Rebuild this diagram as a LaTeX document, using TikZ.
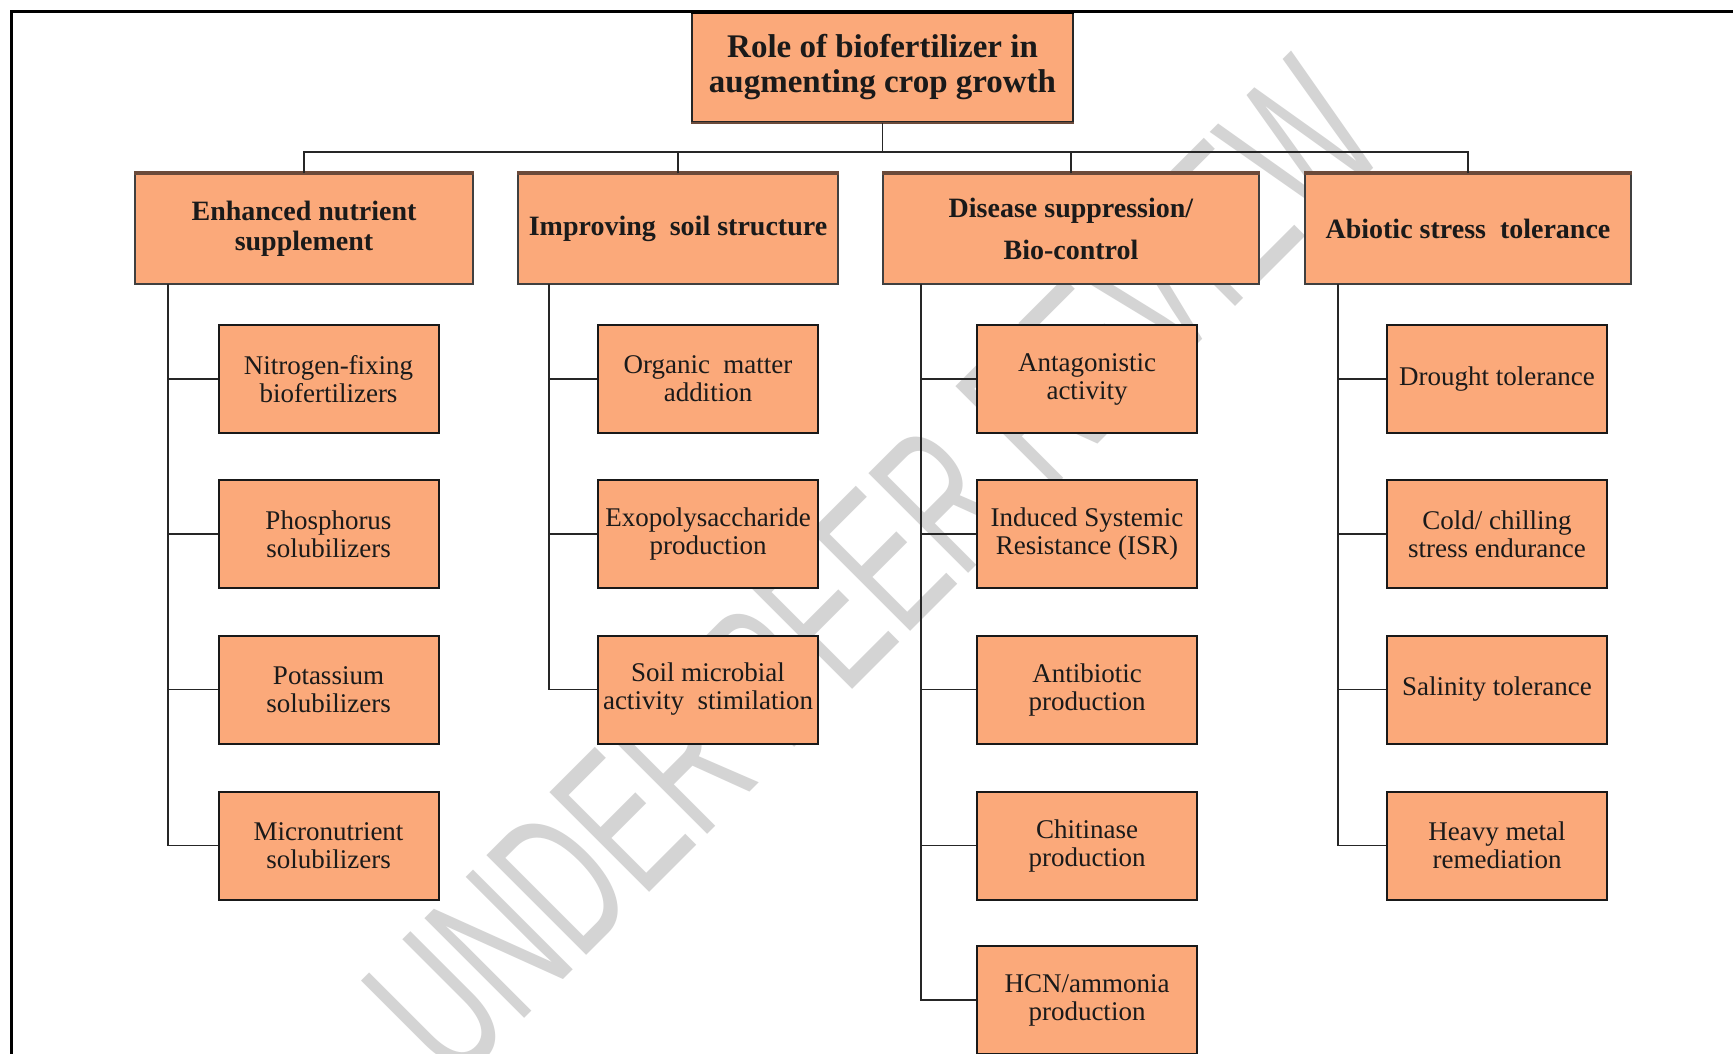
\documentclass[tikz,border=0pt]{standalone}
\usepackage{fontspec}
\setmainfont{Liberation Serif}
\newfontfamily\wmfont{Liberation Sans}
\definecolor{boxfill}{HTML}{FBA97A}
\definecolor{topline}{HTML}{6B4A3A}
\definecolor{txt}{HTML}{1A1A1A}
\tikzset{
  rootbox/.style={rectangle, fill=boxfill, draw=black!85, line width=1.5pt, inner sep=0pt,
    minimum width=381pt, minimum height=109pt, align=center, text=txt,
    font=\bfseries\fontsize{33}{35}\selectfont},
  catbox/.style={rectangle, fill=boxfill, draw=black!75, line width=1.3pt, inner sep=0pt,
    minimum height=110pt, align=center, text=txt,
    font=\bfseries\fontsize{28}{30}\selectfont},
  leafbox/.style={rectangle, fill=boxfill, draw=black!90, line width=2pt, inner sep=0pt,
    minimum width=220pt, minimum height=108pt, align=center, text=txt,
    font=\fontsize{27}{28}\selectfont},
  conn/.style={draw=black!85, line width=1.8pt},
  topedge/.style={draw=topline, line width=4pt},
}
\begin{document}
\begin{tikzpicture}[x=1pt,y=-1pt]
\useasboundingbox (0,0) rectangle (1733,1053);
\fill[white] (0,0) rectangle (1733,1053);
% watermark
\node[rotate=45, text=black!17, inner sep=0pt] (wm) at (874,570)
  {\scalebox{0.60}[1]{\wmfont\fontsize{205}{205}\selectfont UNDER PEER REVIEW}};
% frame
\draw[line width=3pt, black] (11,1070) -- (11,11) -- (1750,11);
% root
\node[rootbox] (root) at (882.5,67.5) {Role of biofertilizer in\\augmenting crop growth};
\draw[line width=4pt, black] (root.north west) -- (root.north east);
\draw[topedge, line width=2.5pt] (root.south west) -- (root.south east);
% categories
\node[catbox, minimum width=338pt] (catA) at (304,229) {Enhanced nutrient\\supplement};
\node[catbox, minimum width=320pt] (catB) at (678,229) {Improving\ \ soil structure};
\node[catbox, minimum width=376pt] (catC) at (1071,229) {Disease suppression/\\[12pt]Bio-control};
\node[catbox, minimum width=326pt] (catD) at (1468,229) {Abiotic stress\ \ tolerance};
\foreach \c in {catA,catB,catC,catD}{
  \draw[topedge] (\c.north west) -- (\c.north east);
}
% bus
\coordinate (bus) at (882.5,152);
\draw[conn] (root.south) -- (bus);
\draw[conn] (catA.north) |- (bus) -| (catD.north);
\draw[conn] (catB.north) -- (catB.north |- bus);
\draw[conn] (catC.north) -- (catC.north |- bus);
% leaves column A
\node[leafbox] (a1) at (328.5,379) {Nitrogen-fixing\\biofertilizers};
\node[leafbox] (a2) at (328.5,534) {Phosphorus\\solubilizers};
\node[leafbox] (a3) at (328.5,689.5) {Potassium\\solubilizers};
\node[leafbox] (a4) at (328.5,845.5) {Micronutrient\\solubilizers};
% column B
\node[leafbox] (b1) at (708,379) {Organic\ \ matter\\addition};
\node[leafbox] (b2) at (708,534) {Exopolysaccharide\\production};
\node[leafbox] (b3) at (708,689.5) {Soil microbial\\activity\ \ stimilation};
% column C
\node[leafbox] (c1) at (1087,379) {Antagonistic\\activity};
\node[leafbox] (c2) at (1087,534) {Induced Systemic\\Resistance (ISR)};
\node[leafbox] (c3) at (1087,689.5) {Antibiotic\\production};
\node[leafbox] (c4) at (1087,845.5) {Chitinase\\production};
\node[leafbox] (c5) at (1087,1000) {HCN/ammonia\\production};
% column D
\node[leafbox] (d1) at (1497,379) {Drought tolerance};
\node[leafbox] (d2) at (1497,534) {Cold/ chilling\\stress endurance};
\node[leafbox] (d3) at (1497,689.5) {Salinity tolerance};
\node[leafbox] (d4) at (1497,845.5) {Heavy metal\\remediation};
% trunks
\coordinate (tA) at (168,284);
\coordinate (tB) at (549,284);
\coordinate (tC) at (921,284);
\coordinate (tD) at (1338,284);
\foreach \l in {a1,a2,a3,a4}{ \draw[conn] (tA) |- (\l.west); }
\foreach \l in {b1,b2,b3}{ \draw[conn] (tB) |- (\l.west); }
\foreach \l in {c1,c2,c3,c4,c5}{ \draw[conn] (tC) |- (\l.west); }
\foreach \l in {d1,d2,d3,d4}{ \draw[conn] (tD) |- (\l.west); }
\end{tikzpicture}
\end{document}
